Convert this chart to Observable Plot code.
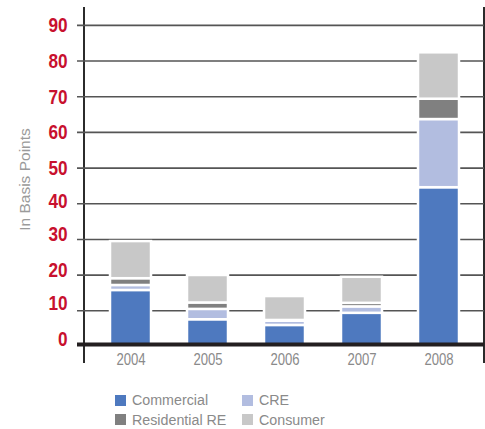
<!DOCTYPE html>
<html>
<head>
<meta charset="utf-8">
<script src="https://cdn.jsdelivr.net/npm/d3@7"></script>
<script src="https://cdn.jsdelivr.net/npm/@observablehq/plot@0.6"></script>
<style>
  body { margin: 0; background: #fff; }
  #legend { position: relative; width: 485px; height: 49px;
    font-family: "Liberation Sans Narrow", "Liberation Sans", Arial, sans-serif; font-size: 15.5px; color: #8a8a8a; }
  .item { position: absolute; display: flex; align-items: center; height: 18px; line-height: 18px; white-space: nowrap; }
  .sw { width: 11px; height: 11px; margin-right: 6px; flex: none; }
  .lab { display: inline-block; transform: scaleX(0.92); transform-origin: left center; }
</style>
</head>
<body>
<div id="chart"></div>
<div id="legend"></div>
<script>
const years = ["2004", "2005", "2006", "2007", "2008"];
const series = ["Commercial", "CRE", "Residential RE", "Consumer"];
const colors = ["#4e79bf", "#b2bde0", "#808080", "#c8c8c8"];
const commercial = [15.7, 7.5, 5.9, 9.3, 44.5];
const cre = [1.4, 2.9, 1.2, 1.8, 19.1];
const residential = [1.9, 1.8, 0.2, 1.0, 5.7];
const consumer = [10.4, 7.7, 6.7, 7.3, 13.0];
const gridTicks = [10, 20, 30, 40, 50, 60, 70, 80, 90];
const yTickGroups = [[50, 60, 70, 80, 90], [40], [20, 30], [0, 10]];
const yTickShift = [0.5, -2.5, -4.5, -7];
const yTitle = "In Basis Points";

const values = [commercial, cre, residential, consumer];
const table = series.flatMap((s, i) => years.map((year, j) => ({year, series: s, value: values[i][j]})));

function frameLines(index, scales, vals, dimensions) {
  const {width, height, marginLeft, marginRight, marginTop, marginBottom} = dimensions;
  const g = d3.create("svg:g");
  [marginLeft, width - marginRight].forEach(x => {
    g.append("line").attr("x1", x).attr("x2", x)
      .attr("y1", marginTop).attr("y2", height - marginBottom + 17)
      .attr("stroke", "#2b2b2b").attr("stroke-width", 2);
  });
  return g.node();
}

const yAxes = yTickGroups.map((ticks, i) => Plot.axisY(ticks, {
  tickSize: 0, tickPadding: 17, fontSize: 20, fontWeight: "bold",
  color: "#c8102e", dy: yTickShift[i], label: null
}));

const chart = Plot.plot({
  width: 485,
  height: 380,
  marginTop: 7,
  marginLeft: 84,
  marginRight: 1,
  marginBottom: 34,
  style: {fontFamily: '"Liberation Sans Narrow", "Liberation Sans", Arial, sans-serif', background: "white"},
  x: {domain: years, paddingInner: 0.47, paddingOuter: 0.3},
  y: {domain: [0, 95]},
  color: {domain: series, range: colors},
  marks: [
    frameLines,
    Plot.ruleY(gridTicks, {stroke: "#555", strokeWidth: 1.6, insetLeft: -7}),
    Plot.barY(table, {x: "year", y: "value", fill: "series", stroke: "white", strokeWidth: 2.5, order: series}),
    Plot.ruleY([0], {stroke: "#231f20", strokeWidth: 4, dy: -2, insetLeft: -7}),
    Plot.axisX({tickSize: 0, tickPadding: 7, fontSize: 16, color: "#8a8a8a", label: null}),
    ...yAxes,
    Plot.text([yTitle], {frameAnchor: "left", textAnchor: "middle", rotate: -90, dx: -59, dy: 2.5,
      fontSize: 15.5, fill: "#9a9a9a", ariaLabel: "y-title"})
  ]
});

// horizontally condense text to mimic the condensed typeface of the original
const isNum = v => v != null && v.trim() !== "" && isFinite(+v);
function squeeze(selection, s) {
  selection.each(function() {
    let t = this.getAttribute("transform") || "";
    const x = this.getAttribute("x"), y = this.getAttribute("y");
    const mx = isNum(x) ? +x : 0;
    const my = isNum(y) ? +y : 0;
    if (isNum(x)) this.removeAttribute("x");
    if (isNum(y)) this.removeAttribute("y");
    if (mx || my) t += ` translate(${mx},${my})`;
    this.setAttribute("transform", `${t} scale(${s},1)`.trim());
  });
}
const svg = d3.select(chart);
squeeze(svg.selectAll('g[aria-label="y-axis tick label"] text'), 0.86);
squeeze(svg.selectAll('g[aria-label="x-axis tick label"] text'), 0.82);
squeeze(svg.selectAll('g[aria-label="y-title"] text'), 0.88);

document.getElementById("chart").appendChild(chart);

const legend = document.getElementById("legend");
const lefts = [115, 242];
const tops = [11, 30.5];
series.forEach((s, i) => {
  const item = document.createElement("div");
  item.className = "item";
  item.style.left = lefts[i % 2] + "px";
  item.style.top = tops[Math.floor(i / 2)] + "px";
  const sw = document.createElement("span");
  sw.className = "sw";
  sw.style.background = colors[i];
  const label = document.createElement("span");
  label.className = "lab";
  label.textContent = s;
  item.appendChild(sw);
  item.appendChild(label);
  legend.appendChild(item);
});
</script>
</body>
</html>
